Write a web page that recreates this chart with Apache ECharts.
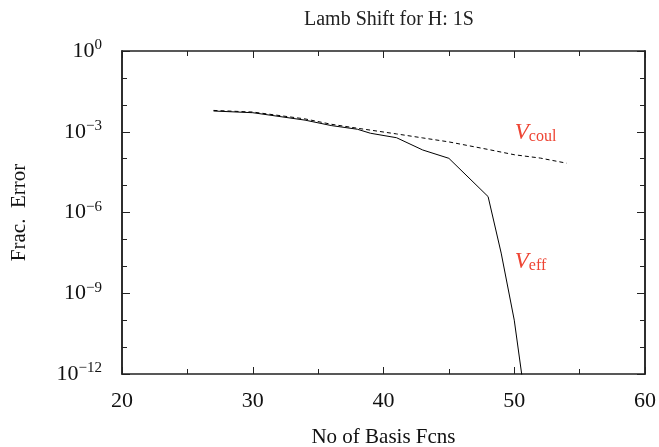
<!DOCTYPE html>
<html>
<head>
<meta charset="utf-8">
<script src="https://cdn.jsdelivr.net/npm/echarts@6/dist/echarts.min.js"></script>
</head>
<body style="margin:0;background:#fff">
<div id="main" style="width:659px;height:447px;"></div>
<script>
    // data
    var basisEff = [27, 30, 34, 36, 38, 39, 41, 43, 45, 48, 49, 50, 51];
    var errEff = [5.9e-3, 5.1e-3, 2.7e-3, 1.7e-3, 1.24e-3, 8.8e-4, 6.0e-4, 2.1e-4, 1.03e-4, 3.9e-6, 3.1e-8, 1.0e-10, 3e-14];
    var basisCoul = [27, 30, 34, 36, 38, 39, 41, 43, 45, 48, 50, 52, 54];
    var errCoul = [6.2e-3, 5.4e-3, 3.0e-3, 1.9e-3, 1.35e-3, 1.15e-3, 8.3e-4, 5.9e-4, 4.2e-4, 2.2e-4, 1.4e-4, 1.05e-4, 6.8e-5];
    var xTicks = [20, 30, 40, 50, 60];
    var yTickExps = [0, -3, -6, -9, -12];

    var font = 'Liberation Serif';
    var red = '#ee4433';
    var frame = '#222';

    function pairs(xs, ys) {
        var out = [];
        for (var i = 0; i < xs.length; i++) out.push([xs[i], ys[i]]);
        return out;
    }

    function expLabel(v) {
        var e = Math.round(Math.log10(v));
        if (yTickExps.indexOf(e) < 0) return '';
        return '{b|10}{s|' + (e < 0 ? '\u2212' + (-e) : e) + '}';
    }

    // red V_sub annotation next to a curve
    function curveLabel(sub, at) {
        return {
            symbol: 'circle',
            symbolSize: 1,
            itemStyle: { color: 'rgba(0,0,0,0)' },
            label: {
                show: true,
                position: 'right',
                distance: 0,
                formatter: '{v|V}{s|' + sub + '}',
                rich: {
                    v: { fontFamily: font, fontStyle: 'italic', fontSize: 23, color: red },
                    s: { fontFamily: font, fontSize: 16, color: red, padding: [8, 0, 0, 0] }
                }
            },
            data: [{ coord: at }]
        };
    }

    var myChart = echarts.init(document.getElementById('main'));

    var xBase = {
        type: 'value',
        min: xTicks[0],
        max: xTicks[xTicks.length - 1],
        interval: 10,
        splitLine: { show: false },
        axisLine: { show: true, lineStyle: { color: frame, width: 1.5 } },
        axisTick: { inside: true, length: 7, lineStyle: { color: frame } },
        minorTick: { show: true, splitNumber: 2, length: 5, lineStyle: { color: frame } }
    };

    var yBase = {
        type: 'log',
        logBase: 10,
        min: Math.pow(10, yTickExps[yTickExps.length - 1]),
        max: Math.pow(10, yTickExps[0]),
        splitLine: { show: false },
        axisLine: { show: true, lineStyle: { color: frame, width: 1.5 } }
    };

    var option = {
        animation: false,
        title: {
            text: 'Lamb Shift for H: 1S',
            left: 384,
            top: 5,
            textAlign: 'center',
            textStyle: { fontFamily: font, fontWeight: 'normal', fontSize: 20, color: '#222' }
        },
        grid: { left: 122, right: 14, top: 51, bottom: 73, outerBoundsMode: 'none', containLabel: false },
        xAxis: [
            Object.assign({}, xBase, {
                position: 'bottom',
                name: 'No of Basis Fcns',
                nameLocation: 'middle',
                nameGap: 53,
                nameTextStyle: { fontFamily: font, fontSize: 21, color: '#111' },
                axisLabel: { fontFamily: font, fontSize: 22, color: '#111', margin: 16 }
            }),
            Object.assign({}, xBase, {
                position: 'top',
                axisLabel: { show: false }
            })
        ],
        yAxis: [
            // major ticks with labels, left
            Object.assign({}, yBase, {
                position: 'left',
                interval: 3,
                name: 'Frac.  Error',
                nameLocation: 'middle',
                nameGap: 92,
                nameTextStyle: { fontFamily: font, fontSize: 21, color: '#111' },
                axisTick: { inside: true, length: 8, lineStyle: { color: frame } },
                axisLabel: {
                    margin: 20,
                    formatter: expLabel,
                    rich: {
                        b: { fontFamily: font, fontSize: 22, color: '#111' },
                        s: { fontFamily: font, fontSize: 15, color: '#111', padding: [0, 0, 11, 0] }
                    }
                }
            }),
            // major ticks, right
            Object.assign({}, yBase, {
                position: 'right',
                interval: 3,
                axisTick: { inside: true, length: 8, lineStyle: { color: frame } },
                axisLabel: { show: false }
            }),
            // minor decade ticks, left
            Object.assign({}, yBase, {
                position: 'left',
                interval: 1,
                axisTick: { inside: true, length: 5, lineStyle: { color: frame } },
                axisLabel: { show: false }
            }),
            // minor decade ticks, right
            Object.assign({}, yBase, {
                position: 'right',
                interval: 1,
                axisTick: { inside: true, length: 5, lineStyle: { color: frame } },
                axisLabel: { show: false }
            })
        ],
        series: [{
            name: 'Vcoul',
            type: 'line',
            data: pairs(basisCoul, errCoul),
            showSymbol: false,
            clip: true,
            lineStyle: { color: '#000', width: 1, type: [4, 3] },
            markPoint: curveLabel('coul', [50, 9e-4])
        }, {
            name: 'Veff',
            type: 'line',
            data: pairs(basisEff, errEff),
            showSymbol: false,
            clip: true,
            lineStyle: { color: '#000', width: 1 },
            markPoint: curveLabel('eff', [50, 1.45e-8])
        }]
    };

    myChart.setOption(option);
</script>
</body>
</html>
